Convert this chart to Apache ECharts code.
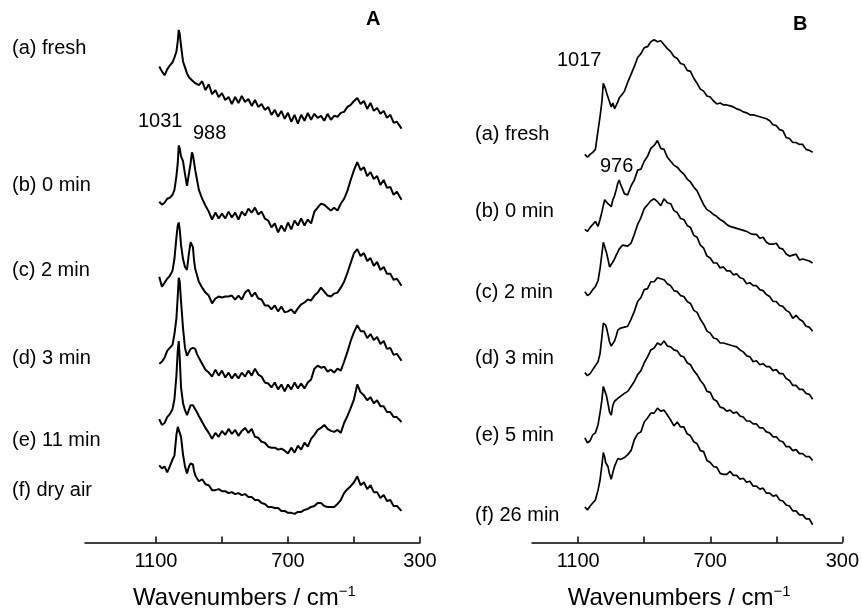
<!DOCTYPE html>
<html><head><meta charset="utf-8">
<script src="https://cdn.jsdelivr.net/npm/echarts/dist/echarts.min.js"></script>
<style>html,body{margin:0;padding:0;background:#fff}#c{width:862px;height:615px}</style>
</head><body><div id="c"></div>
<script>
// ---------- data ----------
const wavenumbersA = [1090,1082,1074,1066,1058,1050,1044,1038,1034,1031,1028,1024,1018,1012,1006,1000,995,991,988,985,981,976,970,960,950,940,930,920,910,900,890,880,870,860,850,840,830,820,810,800,790,780,770,760,750,740,730,720,710,700,690,680,670,660,650,640,630,620,610,600,590,580,570,560,550,540,530,520,510,500,490,480,470,460,450,440,430,420,410,400,390,380,370,356];
const wavenumbersB = [1080,1072,1064,1056,1048,1040,1034,1028,1024,1020,1017,1014,1010,1005,1000,995,990,985,980,976,972,966,960,950,940,930,920,910,900,890,880,870,860,850,840,830,820,810,800,790,780,770,760,750,740,730,720,710,700,690,680,670,660,650,640,630,620,610,600,590,580,570,560,550,540,530,520,510,500,490,480,470,460,450,440,430,420,410,400,390];

const labelsA = ['(a) fresh','(b) 0 min','(c) 2 min','(d) 3 min','(e) 11 min','(f) dry air'];
const labelsB = ['(a) fresh','(b) 0 min','(c) 2 min','(d) 3 min','(e) 5 min','(f) 26 min'];
const peakLabelsA = ['1031','988'];
const peakLabelsB = ['1017','976'];
const tickValues = [1100,900,700,500,300];
const tickLabelValues = [1100,700,300];

// stacking offsets (arbitrary intensity units)
const offsetsA = [419,316,232,155,90,29];
const offsetsB = [389,283,213,143,81,16];

// Panel A intensities
const specA_a = [63,58,54,60,64,67,72,78,88,100, 96,84,68,62,56,52,50,49,48,50, 46,47,44,48,39,45,35,39,32,36, 29,32,25,32,26,33,27,30,23,29, 22,25,19,22,14,19,12,18,10,16, 7,14,5,14,8,16,9,15,11,13, 8,15,9,13,12,16,17,22,24,28, 31,25,28,20,26,18,21,15,18,11, 14,6,7,0];
const specA_b = [29,26,28,32,33,36,41,55,68,86, 83,75,70,57,45,46,68,79,76,70, 61,52,41,32,25,19,11,18,12,17, 12,19,13,18,11,19,15,22,18,23, 16,19,12,10,3,7,-2,5,-1,8, 1,10,5,12,5,11,7,19,23,27, 26,23,20,23,20,27,32,40,51,61, 69,61,64,55,59,52,55,46,51,43, 44,36,39,31];
const specA_c = [37,27,31,35,38,43,55,77,89,92, 85,69,55,47,44,61,72,74,67,55, 45,39,32,26,21,18,10,15,17,16, 17,17,18,14,18,14,21,24,17,21, 15,14,8,8,4,8,2,7,1,2, 4,0,5,9,11,14,13,18,21,26, 22,18,17,20,21,26,32,41,51,61, 65,58,61,53,56,48,52,44,47,40, 40,34,35,28];
const specA_d = [26,28,32,39,42,45,56,72,94,113, 109,89,62,42,34,35,41,43,42,40, 41,36,32,26,20,17,13,20,14,19, 12,17,11,16,11,17,13,19,14,21, 15,13,7,6,2,7,0,5,-2,5, 0,7,1,6,1,7,10,21,24,22, 23,18,20,17,21,19,28,38,49,58, 65,59,59,52,56,50,53,46,49,41, 42,35,36,29];
const specA_e = [35,29,31,37,40,45,55,79,104,114, 97,67,51,44,39,41,49,51,49,47, 45,42,38,32,26,21,15,21,17,23, 19,25,20,24,18,23,26,21,25,17, 16,12,11,7,6,6,4,5,3,0, 6,1,8,4,11,7,15,19,24,26, 29,25,23,22,24,21,31,38,46,55, 70,62,59,54,57,51,54,48,48,42, 42,37,37,32];
const specA_f = [49,46,48,42,48,55,59,80,88,86, 82,78,60,48,41,48,51,52,50,44, 39,36,33,35,30,29,24,24,25,23, 23,21,22,20,21,19,20,17,17,14, 14,11,10,7,7,6,6,3,3,1, 1,0,2,2,4,5,7,8,11,11, 8,7,7,7,10,14,21,25,28,32, 38,29,32,25,29,22,22,16,19,13, 14,8,8,3];

// Panel B intensities
const specB_a = [4,1,4,6,9,28,42,58,76,74, 70,66,62,57,52,56,50,49,57,61, 63,65,68, 77,85,93,102,106,112,113, 118,120,118,119,115,111,108,103,101,96, 95,89,88,81,76,70,68,63,62,58, 55,56,54,54,53,52,50,49,47,46, 44,44,43,42,41,40,38,34,33,29, 28,21,20,16,16,14,14,9,8,6];
const specB_b = [34,32,36,39,42,37,44,52,58,64, 66,62,60,58,57,64,68,74,81,84, 80,75,70, 69,78,84,94,95,103,108, 116,119,124,116,115,107,103,99,97,93, 90,85,82,77,73,66,59,54,52,49, 47,44,42,39,37,36,35,34,33,32, 30,29,29,25,26,21,19,19,20,15, 14,9,7,8,9,3,4,3,2,0];
const specB_c = [41,37,39,43,46,52,64,80,91,87, 83,80,74,66,66,71,74,78,81,84, 85,88,90, 87,90,99,109,116,125,129, 133,135,132,128,135,131,130,123,121,115, 114,108,106,98,96,88,85,77,75,70, 70,65,66,62,62,58,59,55,54,49, 50,47,47,43,42,38,36,31,31,27, 26,22,20,14,17,13,11,6,5,1];
const specB_d = [29,26,28,32,36,40,48,66,79,78, 77,74,68,60,56,55,61,66,72,73, 74,76,75, 76,83,91,101,105,113,114, 121,121,125,124,123,119,117,112,111,107, 106,101,99,92,90,83,78,71,69,64, 63,59,59,58,57,56,55,52,50,46, 45,40,41,37,38,35,35,31,32,28, 28,23,21,16,16,12,12,8,7,2];
const specB_e = [25,20,22,28,30,38,50,64,77,73, 70,67,60,51,48,58,62,64,65,66, 67,68,70, 72,77,82,89,93,101,107, 114,116,121,119,123,118,117,114,113,108, 107,101,99,93,89,83,79,72,71,64, 62,56,55,52,53,50,51,47,46,42, 42,39,39,35,35,31,30,26,26,22, 21,16,16,12,13,9,9,6,6,2];
const specB_f = [20,17,21,24,27,37,47,63,75,71, 65,63,61,53,48,55,61,65,69,70, 68,68,70, 73,77,88,94,96,106,110, 115,115,120,117,118,113,108,102,106,101, 101,94,92,86,84,77,76,67,65,61, 60,54,53,53,56,52,52,48,49,45, 46,41,41,38,39,34,34,31,32,27, 26,22,21,16,16,12,12,8,8,2];

const spectraA = [specA_a,specA_b,specA_c,specA_d,specA_e,specA_f];
const spectraB = [specB_a,specB_b,specB_c,specB_d,specB_e,specB_f];

// ---------- chart ----------
const FONT = '"Liberation Sans", Arial, Helvetica, sans-serif';
const chart = echarts.init(document.getElementById('c'), null, {renderer:'canvas'});

function makeSeries(wn, inten, off, gi, lw){
  return {
    type:'line', xAxisIndex:gi, yAxisIndex:gi,
    data: wn.map((w,i)=>[w, off + inten[i]]),
    symbol:'none', showSymbol:false, silent:true, animation:false,
    lineStyle:{color:'#000', width:lw}
  };
}
function makeXAxis(gi, maxVal){
  return {
    gridIndex:gi, type:'value', inverse:true, min:300, max:maxVal,
    axisLine:{show:true, onZero:false, lineStyle:{color:'#000', width:1.5}},
    axisTick:{show:true, inside:true, length:6, customValues:tickValues, lineStyle:{color:'#000', width:1.5}},
    axisLabel:{show:true, customValues:tickLabelValues, formatter:(v)=>String(v), color:'#000', fontSize:20, fontFamily:FONT, margin:9},
    splitLine:{show:false},
    name:'Wavenumbers / cm{sup|\u22121}', nameLocation:'middle', nameGap:42,
    nameTextStyle:{color:'#000', fontSize:24, fontFamily:FONT, padding:[0,16,0,0],
      rich:{sup:{fontSize:15, fontFamily:FONT, color:'#000', padding:[0,0,12,0]}}}
  };
}
function makeYAxis(gi){
  return {gridIndex:gi, type:'value', min:0, max:529, show:false};
}

const series = [];
spectraA.forEach((s,k)=>series.push(makeSeries(wavenumbersA, s, offsetsA[k], 0, 2)));
spectraB.forEach((s,k)=>series.push(makeSeries(wavenumbersB, s, offsetsB[k], 1, 1.7)));

function txt(t, x, y, opts){
  return {type:'text', x:x, y:y, silent:true, z:10,
    style:Object.assign({text:t, fill:'#000', font:'20px ' + FONT, textVerticalAlign:'middle', verticalAlign:'middle'}, opts||{})};
}
const labelYA = [48,185,270,358,440,490];
const labelYB = [134,211,292,358,435,515];
const graphics = [];
labelsA.forEach((t,k)=>graphics.push(txt(t, 12, labelYA[k])));
labelsB.forEach((t,k)=>graphics.push(txt(t, 475, labelYB[k])));
graphics.push(txt(peakLabelsA[0], 138, 121));
graphics.push(txt(peakLabelsA[1], 193, 133));
graphics.push(txt(peakLabelsB[0], 557, 60));
graphics.push(txt(peakLabelsB[1], 600, 166));
graphics.push(txt('A', 366, 19, {font:'bold 20px ' + FONT}));
graphics.push(txt('B', 793, 24, {font:'bold 20px ' + FONT}));

chart.setOption({
  animation:false,
  backgroundColor:'#fff',
  grid:[
    {left:85, right:442, top:20, bottom:66},
    {left:532, right:19, top:20, bottom:66}
  ],
  xAxis:[makeXAxis(0,1315), makeXAxis(1,1240)],
  yAxis:[makeYAxis(0), makeYAxis(1)],
  series:series,
  graphic:graphics
});
</script>
</body></html>
